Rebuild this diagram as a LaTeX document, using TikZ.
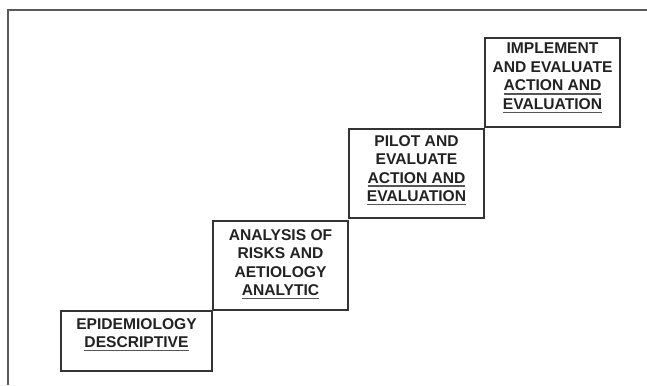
\documentclass[tikz,border=0pt]{standalone}
\usepackage{fontspec}
\setmainfont{Liberation Sans}
\definecolor{boxline}{HTML}{333333}
\definecolor{frameline}{HTML}{5A5A5A}
\definecolor{txt}{HTML}{222222}
\definecolor{ulcol}{HTML}{555555}
\newsavebox\myulbox
\newcommand\myul[1]{\sbox\myulbox{#1}\rlap{\color{ulcol}\rule[-3.6pt]{\wd\myulbox}{1.4pt}}\usebox\myulbox}
\tikzset{
  stepbox/.style={draw=boxline, line width=1.2pt, rectangle, inner sep=0pt, outer sep=0pt},
  steptext/.style={anchor=north, inner sep=0pt, align=center, text=txt,
    font=\fontsize{15.6}{18.5}\selectfont\bfseries},
  frame/.style={draw=frameline, line width=2pt}
}
\begin{document}
\begin{tikzpicture}[x=1pt,y=-1pt]
\useasboundingbox (0,0) rectangle (647,385);
% frame
\coordinate (fbl) at (8,385);
\coordinate (ftl) at (8,10);
\coordinate (ftr) at (647,10);
\draw[frame] (fbl) -- (ftl) -- (ftr);
% boxes
\node[stepbox, minimum width=151pt, minimum height=60pt] (b1) at (136.5,341) {};
\node[stepbox, minimum width=135pt, minimum height=89pt] (b2) at (280.5,265.5) {};
\node[stepbox, minimum width=135pt, minimum height=89pt] (b3) at (416.5,173.5) {};
\node[stepbox, minimum width=135pt, minimum height=89pt] (b4) at (552.5,82.5) {};
% texts
\node[steptext] (t1) at ([yshift=-7pt]b1.north) {EPIDEMIOLOGY\\\myul{DESCRIPTIVE}};
\node[steptext] (t2) at ([yshift=-8.3pt]b2.north) {ANALYSIS OF\\RISKS AND\\AETIOLOGY\\\myul{ANALYTIC}};
\node[steptext] (t3) at ([yshift=-6pt]b3.north) {PILOT AND\\EVALUATE\\\myul{ACTION AND}\\\myul{EVALUATION}};
\node[steptext] (t4) at ([yshift=-5pt]b4.north) {IMPLEMENT\\AND EVALUATE\\\myul{ACTION AND}\\\myul{EVALUATION}};
\end{tikzpicture}
\end{document}
